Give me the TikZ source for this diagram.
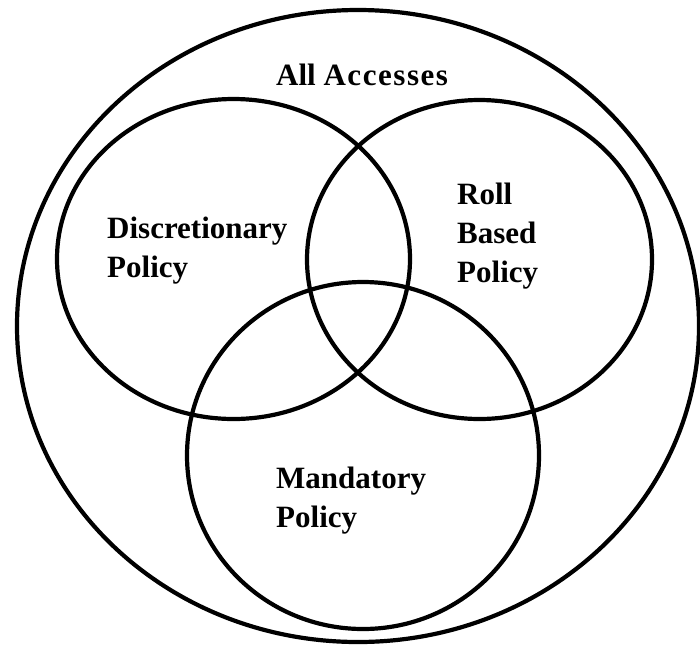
\documentclass[tikz,border=0pt]{standalone}
\usepackage{fontspec}
\setmainfont{Liberation Serif}
\begin{document}
\begin{tikzpicture}[x=1pt,y=-1pt,
  ring/.style={line width=4.2pt},
  lbl/.style={font=\bfseries\fontsize{31}{39}\selectfont, inner sep=0pt, anchor=base west, align=left}]
\useasboundingbox (0,0) rectangle (700,646);
\coordinate (all) at (358,326);
\coordinate (dp) at (233.5,259);
\coordinate (rb) at (479.5,259.5);
\coordinate (mp) at (363,455.5);
\draw[ring] (all) ellipse [x radius=341, y radius=316];
\draw[ring] (dp) ellipse [x radius=176.5, y radius=160];
\draw[ring] (rb) ellipse [x radius=172.5, y radius=159.5];
\draw[ring] (mp) ellipse [x radius=176, y radius=173.5];
\node[lbl] (tall) at (276,85) {All {\addfontfeature{LetterSpace=5}Accesses}};
\node[lbl] (tdp) at (107,277) {Discretionary\\Policy};
\node[lbl] (trb) at (457,282) {Roll\\Based\\Policy};
\node[lbl] (tmp) at (276,527) {Mandatory\\Policy};
\end{tikzpicture}
\end{document}
